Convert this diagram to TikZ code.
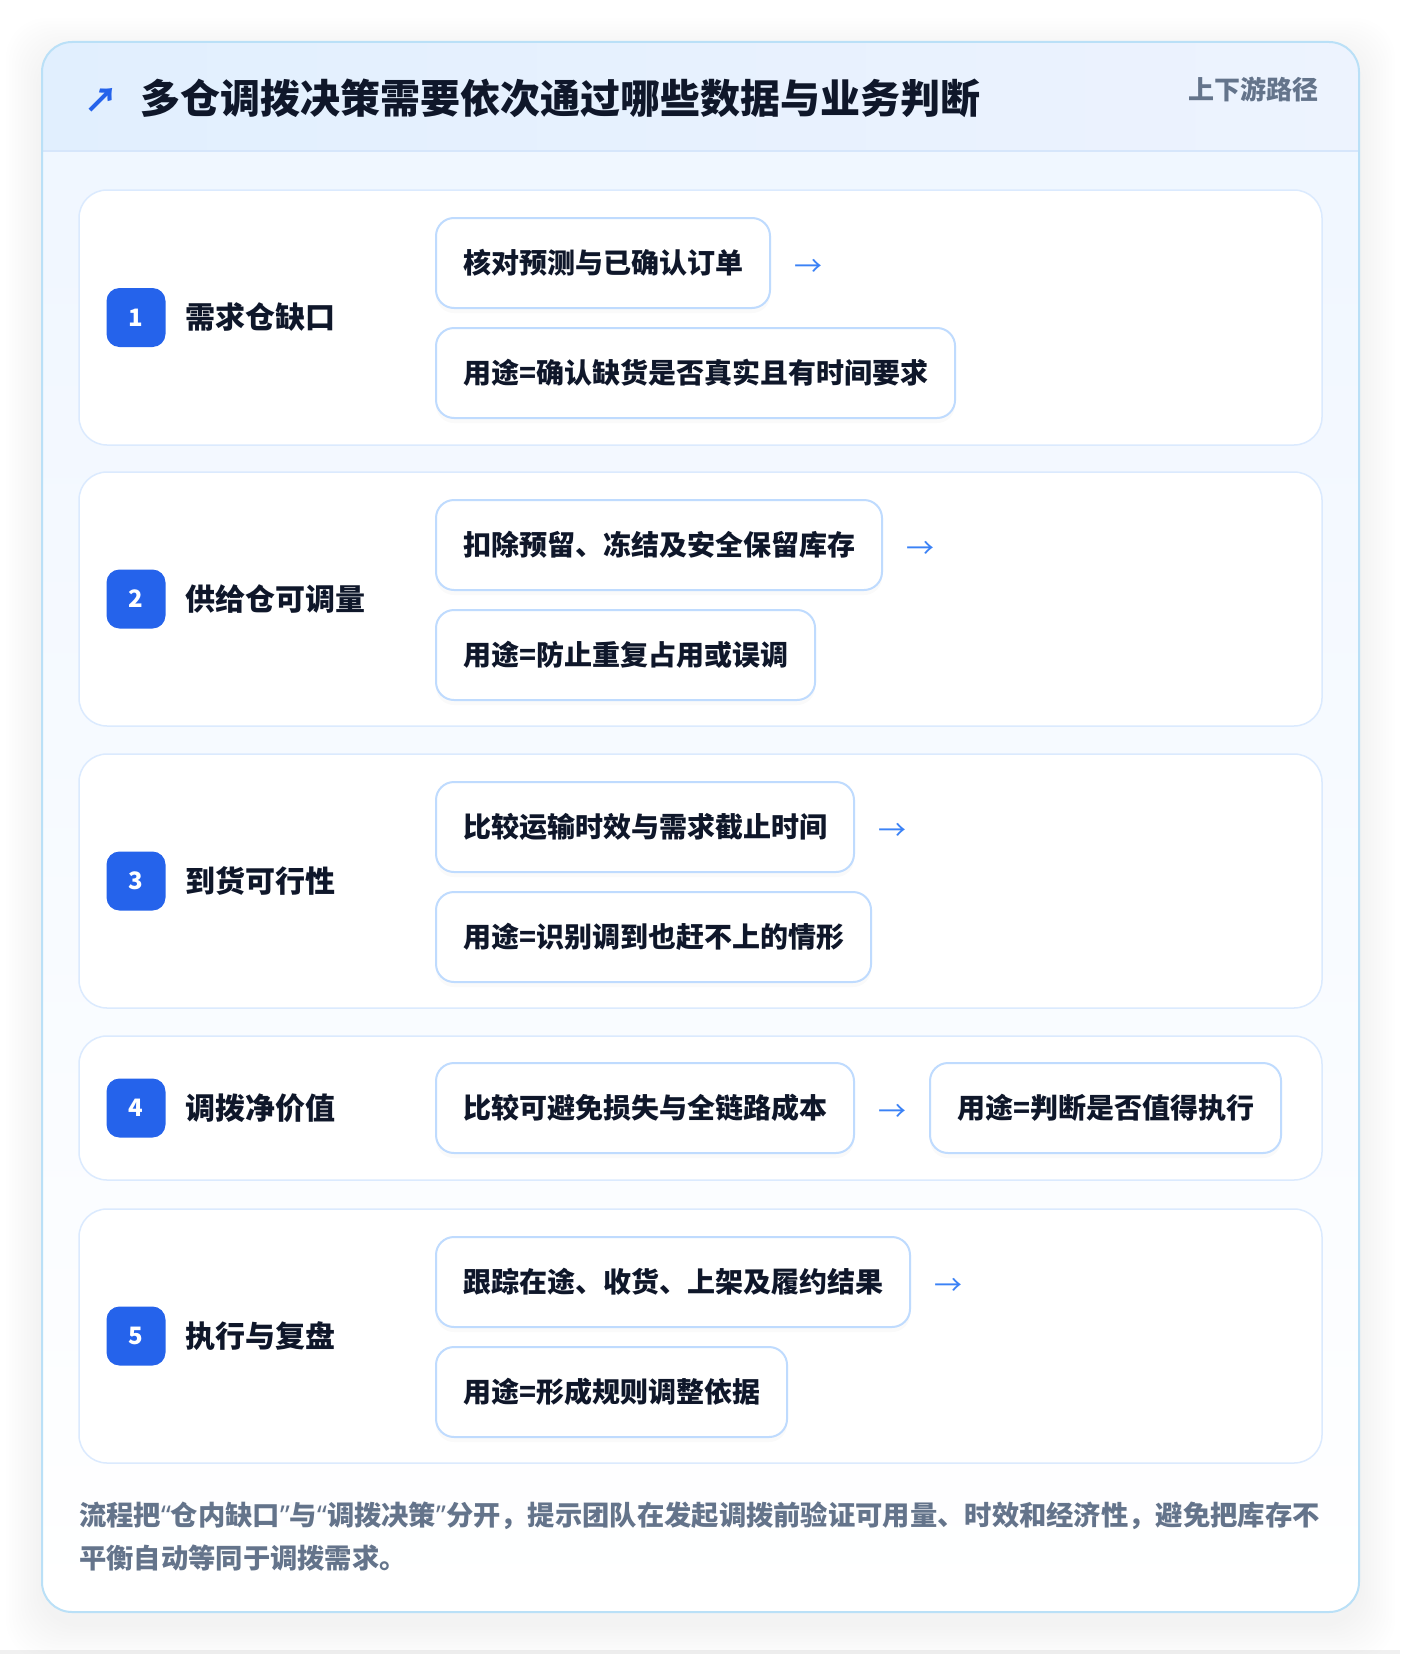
\documentclass[tikz,border=0pt]{standalone}
\usepackage{fontspec}
\setmainfont{Noto Sans CJK SC}
\newfontfamily\quotefont{Noto Sans}
\usetikzlibrary{positioning,calc,shadows}

\definecolor{inkdark}{HTML}{0F172A}
\definecolor{badgeblue}{HTML}{2563EB}
\definecolor{arrowblue}{HTML}{3B82F6}
\definecolor{boxline}{HTML}{BFDBFE}
\definecolor{rowline}{HTML}{DBEAFE}
\definecolor{cardline}{HTML}{BAE0F7}
\definecolor{headleft}{HTML}{E1EFFE}
\definecolor{headright}{HTML}{EDF3FE}
\definecolor{headline}{HTML}{D6E6FB}
\definecolor{notegray}{HTML}{64748B}
\definecolor{cardtop}{HTML}{EFF6FF}

\newcommand{\openq}{{\quotefont “}}
\newcommand{\closeq}{{\quotefont ”}}

\tikzset{
  rowpanel/.style={draw=rowline, line width=1.5pt, fill=white, rounded corners=28pt},
  badge/.style={fill=badgeblue, text=white, rounded corners=13pt, minimum size=59pt,
    inner sep=0pt, font=\fontsize{24}{24}\selectfont\bfseries},
  steplabel/.style={anchor=west, inner sep=0pt, text=inkdark,
    font=\fontsize{30}{30}\selectfont\bfseries},
  cell/.style={draw=boxline, line width=2pt, fill=white, rounded corners=18pt,
    minimum height=90pt, inner xsep=27pt, inner ysep=0pt, text=inkdark,
    drop shadow={opacity=0.04, shadow xshift=0pt, shadow yshift=-5pt},
    font=\fontsize{28}{28}\selectfont\bfseries},
  flow/.style={inner sep=0pt, text=arrowblue, font=\fontsize{28}{28}\selectfont},
  note/.style={anchor=west, inner sep=0pt, text=notegray,
    font=\fontsize{27.3}{27.3}\selectfont\bfseries},
}

\begin{document}
\begin{tikzpicture}[x=1pt,y=-1pt]
\useasboundingbox (0,0) rectangle (1400,1654);
\fill[white] (0,0) rectangle (1400,1654);
\fill[gray!12] (0,1650) rectangle (1400,1654);

% soft shadow of the card
\foreach \s in {3,6,...,36}
  \fill[black, opacity=0.005, rounded corners=40pt] (42-\s,42-\s+12) rectangle (1359+\s,1612+\s+12);

% card and header
\shade[rounded corners=30pt, top color=cardtop, bottom color=white] (42,42) rectangle (1359,1612);
\begin{scope}
\clip[rounded corners=30pt] (42,42) rectangle (1359,1612);
\shade[left color=headleft, right color=headright] (42,42) rectangle (1359,151);
\end{scope}
\draw[headline, line width=1.5pt] (42,151) -- (1359,151);
\draw[cardline, line width=2pt, rounded corners=30pt] (42,42) rectangle (1359,1612);

\node[text=badgeblue, font=\fontsize{34}{34}\selectfont\bfseries] (icon) at (101,100) {↗};
\node[anchor=west, inner sep=0pt, text=inkdark, font=\fontsize{40}{40}\selectfont\bfseries]
  (title) at (140,98) {多仓调拨决策需要依次通过哪些数据与业务判断};
\node[anchor=east, inner sep=0pt, text=notegray, font=\fontsize{26}{26}\selectfont\bfseries]
  (tag) at (1319,89) {上下游路径};

% row panels
\draw[rowpanel] (79,190) rectangle (1322,445);
\draw[rowpanel] (79,472) rectangle (1322,726);
\draw[rowpanel] (79,754) rectangle (1322,1008);
\draw[rowpanel] (79,1036) rectangle (1322,1180);
\draw[rowpanel] (79,1209) rectangle (1322,1463);

% 1
\node[badge] (n1) at (136,317.5) {1};
\node[steplabel] (l1) at (185,317.5) {需求仓缺口};
\node[cell, anchor=north west] (c1a) at (435,217) {核对预测与已确认订单};
\node[flow, right=23pt of c1a.east, yshift=-5pt] (a1) {→};
\node[cell, below=18pt of c1a.south west, anchor=north west] (c1b) {用途=确认缺货是否真实且有时间要求};

% 2
\node[badge] (n2) at (136,599) {2};
\node[steplabel] (l2) at (185,599) {供给仓可调量};
\node[cell, anchor=north west] (c2a) at (435,499) {扣除预留、冻结及安全保留库存};
\node[flow, right=23pt of c2a.east, yshift=-5pt] (a2) {→};
\node[cell, below=18pt of c2a.south west, anchor=north west] (c2b) {用途=防止重复占用或误调};

% 3
\node[badge] (n3) at (136,881) {3};
\node[steplabel] (l3) at (185,881) {到货可行性};
\node[cell, anchor=north west] (c3a) at (435,781) {比较运输时效与需求截止时间};
\node[flow, right=23pt of c3a.east, yshift=-5pt] (a3) {→};
\node[cell, below=18pt of c3a.south west, anchor=north west] (c3b) {用途=识别调到也赶不上的情形};

% 4
\node[badge] (n4) at (136,1108) {4};
\node[steplabel] (l4) at (185,1108) {调拨净价值};
\node[cell, anchor=west] (c4a) at (435,1108) {比较可避免损失与全链路成本};
\node[flow, right=23pt of c4a.east, yshift=-5pt] (a4) {→};
\node[cell, right=74pt of c4a.east] (c4b) {用途=判断是否值得执行};

% 5
\node[badge] (n5) at (136,1336) {5};
\node[steplabel] (l5) at (185,1336) {执行与复盘};
\node[cell, anchor=north west] (c5a) at (435,1236) {跟踪在途、收货、上架及履约结果};
\node[flow, right=23pt of c5a.east, yshift=-5pt] (a5) {→};
\node[cell, below=18pt of c5a.south west, anchor=north west] (c5b) {用途=形成规则调整依据};

% note
\node[note] (note1) at (79,1516) {流程把\openq 仓内缺口\closeq 与\openq 调拨决策\closeq 分开，提示团队在发起调拨前验证可用量、时效和经济性，避免把库存不};
\node[note] (note2) at (79,1558) {平衡自动等同于调拨需求。};

\end{tikzpicture}
\end{document}
